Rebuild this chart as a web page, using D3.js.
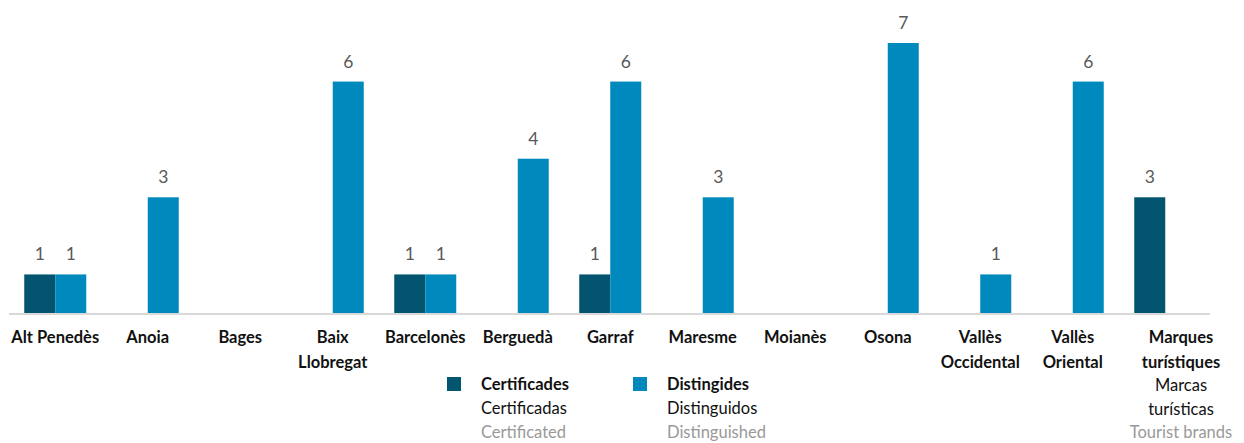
<!DOCTYPE html>
<html>
<head>
<meta charset="utf-8">
<script src="https://cdn.jsdelivr.net/npm/d3@7"></script>
<style>
  body { margin: 0; background: #fff; }
  svg { font-family: Lato, "Open Sans", sans-serif; }
</style>
</head>
<body>
<svg id="svg" width="1244" height="443"></svg>
<script>
// DATA
var categories = ["Alt Penedès", "Anoia", "Bages", "Baix Llobregat", "Barcelonès", "Berguedà",
  "Garraf", "Maresme", "Moianès", "Osona", "Vallès Occidental", "Vallès Oriental", "Marques turístiques"];
var certificades = [1, 0, 0, 0, 1, 0, 1, 0, 0, 0, 0, 0, 3];
var distingides = [1, 3, 0, 6, 1, 4, 6, 3, 0, 7, 1, 6, 0];
var labelLines = [["Alt Penedès"], ["Anoia"], ["Bages"], ["Baix", "Llobregat"], ["Barcelonès"], ["Berguedà"],
  ["Garraf"], ["Maresme"], ["Moianès"], ["Osona"], ["Vallès", "Occidental"], ["Vallès", "Oriental"], ["Marques", "turístiques"]];
var marquesSub = ["Marcas", "turísticas"];
var marquesEn = "Tourist brands";
var seriesNames = ["Certificades", "Distingides"];
var seriesEs = ["Certificadas", "Distinguidos"];
var seriesEn = ["Certificated", "Distinguished"];
var colors = ["#02546f", "#0089bc"];

// SETUP
var svg = d3.select("#svg");
var baseY = 313;
var fs = 16.5;

var x = d3.scaleBand()
  .domain(categories)
  .range([9, 1211.5]);

var y = d3.scaleLinear()
  .domain([0, 7])
  .range([baseY, 43]);

var barW = 31;

// axis line
svg.append("line")
  .attr("x1", 9).attr("x2", 1210)
  .attr("y1", baseY + 1).attr("y2", baseY + 1)
  .attr("stroke", "#d9d9d9")
  .attr("stroke-width", 2);

var series = [certificades, distingides];

series.forEach(function (vals, s) {
  var g = svg.append("g");
  categories.forEach(function (c, i) {
    var v = vals[i];
    if (!v) return;
    var cx = x(c) + x.bandwidth() / 2;
    var bx = s == 0 ? cx - barW : cx;
    g.append("rect")
      .attr("x", bx)
      .attr("y", y(v))
      .attr("width", barW)
      .attr("height", baseY - y(v))
      .attr("fill", colors[s]);
    g.append("text")
      .attr("x", bx + barW / 2)
      .attr("y", y(v) - 14)
      .attr("text-anchor", "middle")
      .attr("font-size", 17.5)
      .attr("fill", "#595959")
      .text(v);
  });
});

// category labels
categories.forEach(function (c, i) {
  var cx = x(c) + x.bandwidth() / 2;
  var last = i == categories.length - 1;
  if (last) cx = 1181;
  var t = svg.append("text")
    .attr("text-anchor", "middle")
    .attr("font-size", fs)
    .attr("font-weight", "bold")
    .attr("fill", "#111");
  labelLines[i].forEach(function (line, k) {
    t.append("tspan")
      .attr("x", cx)
      .attr("y", 343 + k * 24.5)
      .text(line);
  });
  if (last) {
    marquesSub.forEach(function (line, k) {
      svg.append("text")
        .attr("x", cx)
        .attr("y", 391 + k * 24)
        .attr("text-anchor", "middle")
        .attr("font-size", fs)
        .attr("fill", "#111")
        .text(line);
    });
    svg.append("text")
      .attr("x", cx)
      .attr("y", 438)
      .attr("text-anchor", "middle")
      .attr("font-size", fs)
      .attr("fill", "#999")
      .text(marquesEn);
  }
});

// legend
var legendX = [447, 633];
seriesNames.forEach(function (name, s) {
  var lg = svg.append("g").attr("transform", "translate(" + legendX[s] + ",0)");
  lg.append("rect")
    .attr("x", 0).attr("y", 377)
    .attr("width", 14).attr("height", 14)
    .attr("fill", colors[s]);
  lg.append("text")
    .attr("x", 34).attr("y", 390)
    .attr("font-size", fs).attr("font-weight", "bold").attr("fill", "#111")
    .text(name);
  lg.append("text")
    .attr("x", 34).attr("y", 414)
    .attr("font-size", fs).attr("fill", "#111")
    .text(seriesEs[s]);
  lg.append("text")
    .attr("x", 34).attr("y", 438)
    .attr("font-size", fs).attr("fill", "#999")
    .text(seriesEn[s]);
});
</script>
</body>
</html>
